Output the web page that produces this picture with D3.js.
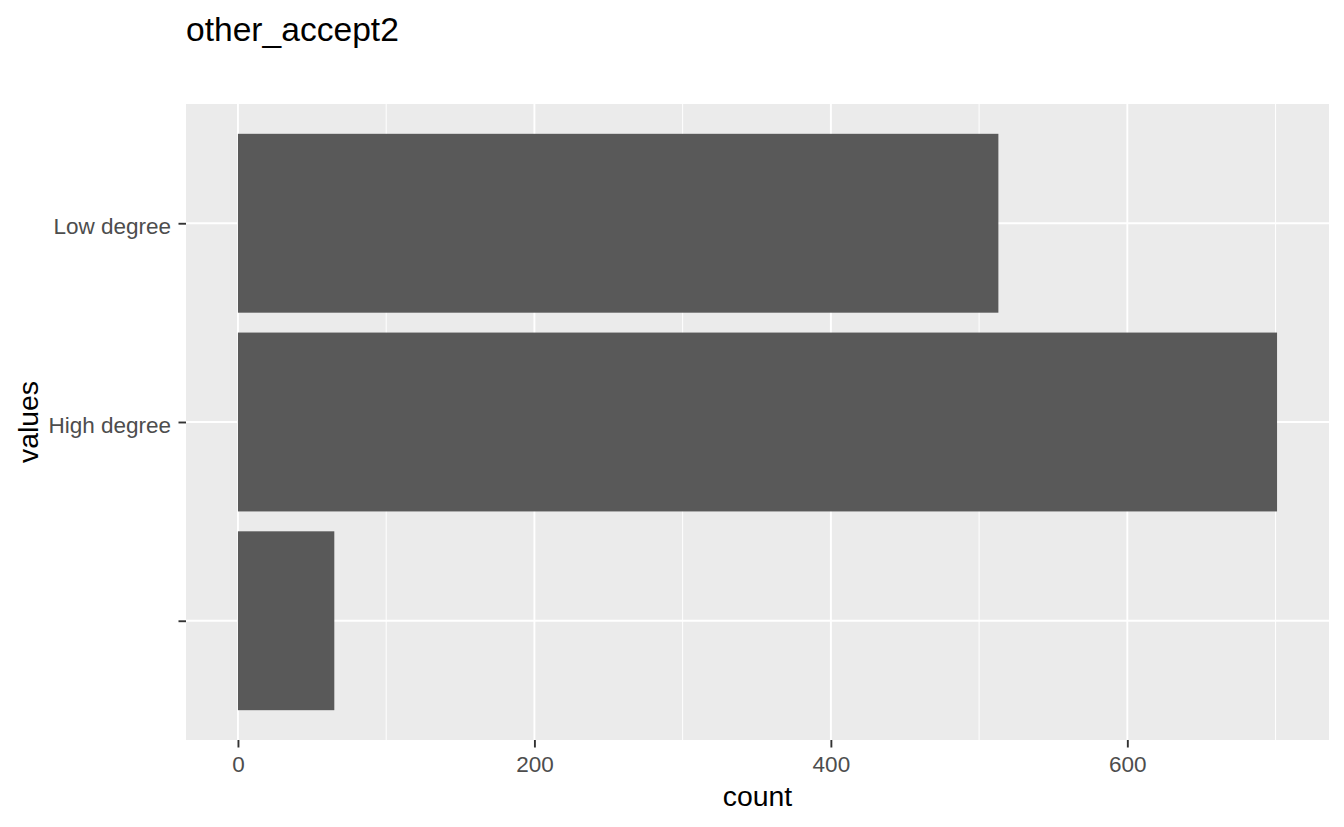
<!DOCTYPE html>
<html lang="en">
<head>
<meta charset="UTF-8">
<title>other_accept2</title>
<script src="https://d3js.org/d3.v7.min.js"></script>
<style>
  body { margin: 0; background: #fff; }
  svg text { font-family: "Liberation Sans", Arial, sans-serif; }
</style>
</head>
<body>
<script>
// data, in factor order (first level sits at the bottom)
const categories = ["", "High degree", "Low degree"];
const counts = [65, 701, 513];
const xTicks = [0, 200, 400, 600];
const xMinor = [100, 300, 500, 700];

const width = 1344, height = 827;
const panel = { left: 186, right: 1329, top: 104, bottom: 740 };

const svg = d3.select("body").append("svg")
    .attr("width", width)
    .attr("height", height);

const maxVal = d3.max(counts);
const pad = maxVal * 0.05;

const x = d3.scaleLinear()
    .domain([-pad, maxVal + pad])
    .range([panel.left, panel.right]);

const y = d3.scalePoint()
    .domain(categories.slice().reverse())
    .range([panel.top, panel.bottom])
    .padding(0.6);

const barH = y.step() * 0.9;

// panel background
svg.append("rect")
    .attr("x", panel.left)
    .attr("y", panel.top)
    .attr("width", panel.right - panel.left)
    .attr("height", panel.bottom - panel.top)
    .attr("fill", "#EBEBEB");

// minor grid
svg.append("g").selectAll("line")
    .data(xMinor)
    .enter().append("line")
    .attr("x1", d => x(d)).attr("x2", d => x(d))
    .attr("y1", panel.top).attr("y2", panel.bottom)
    .attr("stroke", "#fff").attr("stroke-width", 1);

// major grid
svg.append("g").selectAll("line")
    .data(xTicks)
    .enter().append("line")
    .attr("x1", d => x(d)).attr("x2", d => x(d))
    .attr("y1", panel.top).attr("y2", panel.bottom)
    .attr("stroke", "#fff").attr("stroke-width", 1.9);

svg.append("g").selectAll("line")
    .data(categories)
    .enter().append("line")
    .attr("x1", panel.left).attr("x2", panel.right)
    .attr("y1", d => y(d)).attr("y2", d => y(d))
    .attr("stroke", "#fff").attr("stroke-width", 1.9);

// bars
svg.append("g").selectAll("rect")
    .data(categories)
    .enter().append("rect")
    .attr("x", x(0))
    .attr("y", d => y(d) - barH / 2)
    .attr("width", (d, i) => x(counts[i]) - x(0))
    .attr("height", barH)
    .attr("fill", "#595959");

// x axis
const xAxis = d3.axisBottom(x)
    .tickValues(xTicks)
    .tickSize(7.5)
    .tickPadding(8.5);

const gx = svg.append("g")
    .attr("transform", `translate(0,${panel.bottom})`)
    .call(xAxis);
gx.select(".domain").remove();
gx.selectAll(".tick line").attr("stroke", "#333").attr("stroke-width", 1.9);
gx.selectAll(".tick text")
    .attr("fill", "#4D4D4D")
    .style("font-size", "22.5px");

// y axis
const yAxis = d3.axisLeft(y)
    .tickSize(7.5)
    .tickPadding(7.5);

const gy = svg.append("g")
    .attr("transform", `translate(${panel.left},0)`)
    .call(yAxis);
gy.select(".domain").remove();
gy.selectAll(".tick line").attr("stroke", "#333").attr("stroke-width", 1.9);
gy.selectAll(".tick text")
    .attr("fill", "#4D4D4D")
    .attr("dy", "0.45em")
    .style("font-size", "22.5px");

// titles
svg.append("text")
    .attr("x", panel.left)
    .attr("y", 41)
    .style("font-size", "33.6px")
    .attr("fill", "#000")
    .text("other_accept2");

svg.append("text")
    .attr("x", (panel.left + panel.right) / 2)
    .attr("y", 806)
    .attr("text-anchor", "middle")
    .style("font-size", "28.4px")
    .attr("fill", "#000")
    .text("count");

svg.append("text")
    .attr("transform", `translate(38,${(panel.top + panel.bottom) / 2}) rotate(-90)`)
    .attr("text-anchor", "middle")
    .style("font-size", "28.4px")
    .attr("fill", "#000")
    .text("values");
</script>
</body>
</html>
